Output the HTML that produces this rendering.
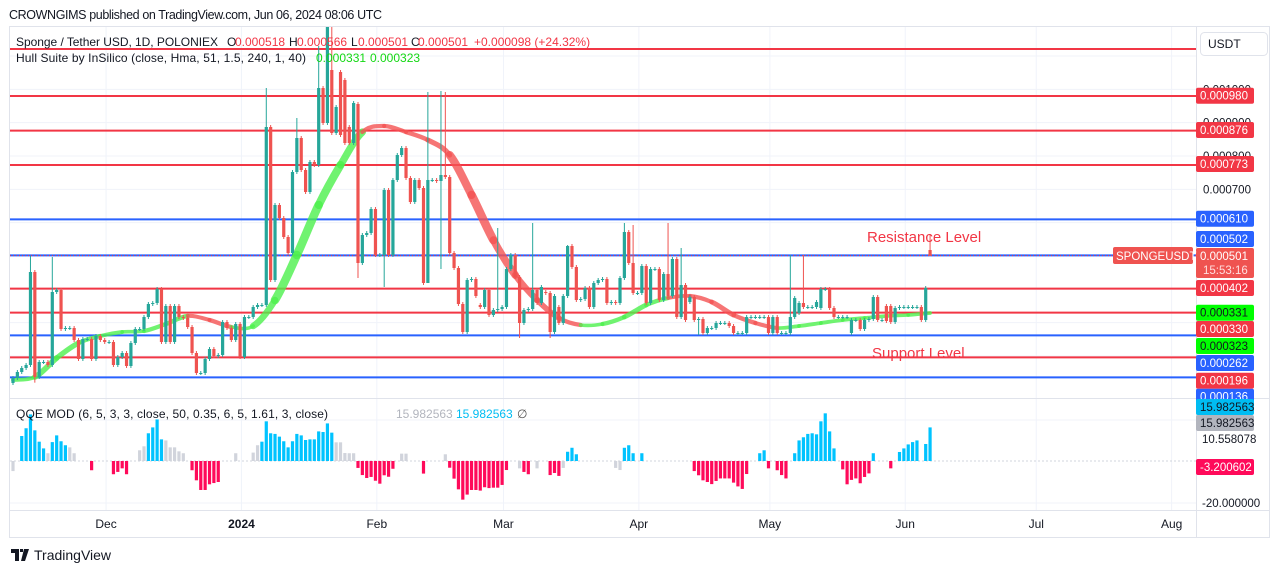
<!DOCTYPE html>
<html><head><meta charset="utf-8"><style>
html,body{margin:0;padding:0;background:#fff;width:1281px;height:573px;overflow:hidden}
svg{display:block;font-family:"Liberation Sans",sans-serif}
</style></head><body>
<svg id="chart" width="1281" height="573" viewBox="0 0 1281 573">
<rect x="0" y="0" width="1281" height="573" fill="#fff"/>
<text x="9" y="19" font-size="12.5" fill="#131722" textLength="373">CROWNGIMS published on TradingView.com, Jun 06, 2024 08:06 UTC</text>
<rect x="9.5" y="26.5" width="1260" height="511" fill="none" stroke="#e0e3eb"/>
<defs><clipPath id="pc"><rect x="10" y="27" width="1186" height="371"/></clipPath></defs>
<g id="grid"></g>
<g id="levels"></g>
<g id="hull" clip-path="url(#pc)"></g>
<g id="candles" clip-path="url(#pc)"></g>
<g id="qqe"></g>
<line x1="10" y1="398.5" x2="1270" y2="398.5" stroke="#e0e3eb"/>
<line x1="10" y1="510.5" x2="1270" y2="510.5" stroke="#e0e3eb"/>
<line x1="1196.5" y1="27" x2="1196.5" y2="537" stroke="#e0e3eb"/>
<text x="867" y="242" font-size="15" fill="#f23645">Resistance Level</text>
<text x="872" y="358" font-size="15" fill="#f23645">Support Level</text>
<g font-size="12">
<text x="16" y="46" fill="#131722" textLength="202">Sponge / Tether USD, 1D, POLONIEX</text>
<text x="227" y="46" fill="#131722">O</text><text x="235" y="46" fill="#f23645">0.000518</text>
<text x="289" y="46" fill="#131722">H</text><text x="297" y="46" fill="#f23645">0.000566</text>
<text x="351" y="46" fill="#131722">L</text><text x="358" y="46" fill="#f23645">0.000501</text>
<text x="411" y="46" fill="#131722">C</text><text x="418" y="46" fill="#f23645">0.000501</text>
<text x="474" y="46" fill="#f23645">+0.000098 (+24.32%)</text>
</g>
<g font-size="12">
<text x="16" y="62" fill="#131722" textLength="290">Hull Suite by InSilico (close, Hma, 51, 1.5, 240, 1, 40)</text>
<text x="316" y="62" fill="#14d814">0.000331</text><text x="370" y="62" fill="#14d814">0.000323</text>
</g>
<g font-size="12">
<text x="16" y="418" fill="#131722" textLength="312">QQE MOD (6, 5, 3, 3, close, 50, 0.35, 6, 5, 1.61, 3, close)</text>
<text x="396" y="418" fill="#b2b5be">15.982563</text><text x="456" y="418" fill="#00bcf2">15.982563</text>
<text x="517" y="418" fill="#555">∅</text>
</g>
<g id="axis"></g>
<g id="taxis" font-size="12" fill="#131722" text-anchor="middle"></g>
<rect x="1200.5" y="32.5" width="67" height="23" rx="4" fill="#fff" stroke="#e0e3eb"/>
<text x="1208" y="48" font-size="12" fill="#131722">USDT</text>
<g>
<path d="M11 549h8v12h-4v-8h-4z M20 549h3v3h-3z M24 549h5l-4 12h-4z" fill="#131722"/>
<text x="34" y="560" font-size="14" fill="#131722">TradingView</text>
</g>
</svg>
<script>
// ----- candle data (prices in millionths of USDT) -----
const closes=[134,152,164,173,452,137,182,182,173,392,398,281,284,284,248,191,251,251,191,260,248,242,242,173,197,209,170,239,281,281,317,356,359,401,242,350,242,350,317,314,287,209,149,149,191,221,200,203,302,284,248,296,197,317,317,347,353,353,887,428,653,614,557,509,752,854,758,692,782,773,1004,899,1187,869,947,863,839,839,959,479,563,569,641,503,503,698,503,728,803,824,734,662,728,704,419,728,728,725,743,737,509,464,356,272,428,431,380,347,398,323,338,341,347,461,503,437,299,338,341,398,359,407,389,272,380,299,380,530,467,368,371,404,347,419,428,431,359,362,359,434,572,479,389,389,470,359,461,461,368,446,380,491,317,413,308,377,308,311,269,284,284,299,299,299,290,269,269,269,317,317,317,317,317,269,317,269,269,269,317,374,359,347,347,347,362,401,401,344,317,317,317,317,308,308,281,308,311,377,308,308,305,302,344,347,347,347,347,347,308,404,501];
const openGapIdx=[0,73,75,76,77,79,107,122,125,155,180,185,192,200,201,210];
const openGapVal=[119,1058,1052,1028,887,956,353,392,347,362,329,344,269,350,350,518];
const highIdx=[4,9,58,65,70,72,73,95,98,99,111,119,127,140,142,150,153,178,181,210];
const highVal=[500,497,1004,914,1130,1190,1190,992,995,992,584,599,533,599,593,599,524,503,503,566];
const lowIdx=[0,5,79,85,95,98,116,123,157,210];
const lowVal=[113,120,434,407,461,461,254,254,263,501];
// ----- Hull suite band -----
const hullIdx=[0,5,10,15,20,25,30,35,40,45,50,55,60,65,70,75,80,85,90,95,100,105,110,115,120,125,130,135,140,145,150,155,160,165,170,175,180,185,190,195,200,205,210];
const hullVal=[128,137,194,239,260,272,275,296,320,308,287,290,368,503,653,773,872,890,872,848,803,683,548,443,368,314,293,296,317,353,374,380,362,323,299,284,290,299,308,314,320,323,329];
const hullDir=['g','g','g','g','g','g','g','g','g','r','r','g','g','g','g','g','g','r','r','r','r','r','r','r','r','r','r','g','g','g','g','r','r','r','r','r','g','g','g','g','g','g','g'];
// ----- QQE MOD histogram -----
const qqeIdx=[0,2,3,4,5,6,7,8,9,10,11,12,13,14,18,23,24,25,26,29,30,31,32,33,34,35,36,37,38,39,41,42,43,44,45,46,47,51,55,56,57,58,59,60,61,62,63,64,65,66,67,68,69,70,71,72,73,74,75,76,77,78,79,80,81,82,83,84,85,86,87,89,90,94,99,100,101,102,103,104,105,106,107,108,109,110,111,112,113,116,117,118,120,123,124,125,126,127,128,129,138,139,140,141,142,144,156,157,158,159,160,161,162,163,164,165,166,167,168,171,172,173,175,176,177,179,180,181,182,183,184,185,186,187,188,190,191,192,193,194,195,196,197,201,203,204,205,206,207,209,210];
const qqeVal=[-4.8,11.9,15.6,22.2,14.6,9.2,6,3.7,9,12.2,9.4,7.5,6.5,3.7,-4.4,-6.3,-5.2,-3.5,-6.3,5.1,7,13.2,16,19.8,10.3,9.8,6.5,6.5,4.6,3.7,-4.4,-9.2,-13.8,-13.8,-11.1,-10.5,-10,3.7,4,7.5,9.2,18.9,13.2,12.9,11.6,9.4,6.5,9.4,12.9,12.2,10,10.3,10.3,14.1,13.8,17.9,13.5,8.9,8.9,3.8,3.7,3.7,-3.3,-6.7,-8.1,-7.6,-9.4,-10.8,-6.8,-7.5,-3.7,3.5,3.5,-6,3.2,-3.2,-8.4,-13.5,-18.4,-16,-13.8,-13.8,-14.1,-12.5,-12.9,-12.7,-12.7,-11.4,-4.3,-3.5,-5.2,-6.3,-3.5,-6.7,-5.7,-7.1,-3.3,4.4,6.3,3.2,-3.3,-4.3,6.3,7.5,3.7,3.7,-4.8,-6.8,-9.2,-10,-11,-9.5,-8.3,-8.3,-8.3,-10.3,-12.1,-13.3,-6.2,3.7,5.1,-3.5,-4.4,-6.7,-8.3,3.7,9.8,11.3,12.9,13.2,12.7,18.9,22.7,14.1,6,-4,-11.1,-9,-8.3,-10.6,-7.6,-5.9,3.7,-3.5,4.3,6,7.9,9,9.8,8.1,16];
const qqeCol=['g','b','b','b','b','b','b','g','b','b','b','b','g','g','r','r','r','r','r','g','g','b','b','b','b','g','g','g','g','g','r','r','r','r','r','r','r','g','g','g','b','b','b','b','b','b','b','b','b','b','b','b','b','b','b','b','b','g','g','g','g','g','r','r','r','r','r','r','r','r','r','g','g','r','g','r','r','r','r','r','r','r','r','r','r','r','r','r','r','g','r','r','g','r','r','r','g','b','b','b','g','g','b','b','b','b','r','r','r','r','r','r','r','r','r','r','r','r','r','b','b','r','r','r','r','b','b','b','b','b','b','b','b','b','b','r','r','r','r','r','r','r','b','r','b','b','b','b','b','b','b'];
// ----- horizontal levels & axis -----
const redLevels=[1121,980,876,773,402,330,196];
const blueLevels=[610,502,262,136];
const gridPrices=[1100,1000,900,800,700,600,500,400,300,200];
const axisTicks=['0.001000','0.000900','0.000800','0.000700'];
const axisTickVals=[1000,900,800,700];
const monthNames=['Dec','2024','Feb','Mar','Apr','May','Jun','Jul','Aug'];
const monthIdx=[22,53,84,113,144,174,205,235,266];

const NS='http://www.w3.org/2000/svg';
const xS=i=>13+i*4.367;
const yS=p=>(1268-p)/3;
const qY=v=>461-v*2.1;
function mk(tag,attrs,parent){const e=document.createElementNS(NS,tag);for(const k in attrs)e.setAttribute(k,attrs[k]);parent.appendChild(e);return e;}
const grid=document.getElementById('grid');
gridPrices.forEach(p=>{const l=mk('line',{x1:10,x2:1196,y1:yS(p),y2:yS(p),stroke:'#f0f3fa'},grid);

});
[420,503].forEach(y=>{const l=mk('line',{x1:10,x2:1196,y1:y,y2:y,stroke:'#f0f3fa'},grid);

});
monthIdx.forEach(i=>{const x=xS(i)-3;const l=mk('line',{x1:x,x2:x,y1:27,y2:510,stroke:'#f0f3fa'},grid);

});
const zl=mk('line',{x1:10,x2:1196,y1:461,y2:461,stroke:'#d1d4dc','stroke-dasharray':'2,2'},grid);



const lv=document.getElementById('levels');
redLevels.forEach(p=>{const l=mk('line',{x1:10,x2:1196,y1:yS(p),y2:yS(p),stroke:'#f23645','stroke-width':2},lv);

});
blueLevels.forEach(p=>{const l=mk('line',{x1:10,x2:1196,y1:yS(p),y2:yS(p),stroke:'#2962ff','stroke-width':2},lv);

});
const cp=mk('line',{x1:10,x2:1196,y1:yS(501),y2:yS(501),stroke:'#f23645','stroke-dasharray':'1,2'},lv);



// hull band
const hull=document.getElementById('hull');
const pts=hullIdx.map((i,k)=>[xS(i),yS(hullVal[k])]);
for(let k=0;k<pts.length-1;k++){
 const p0=pts[Math.max(0,k-1)],p1=pts[k],p2=pts[k+1],p3=pts[Math.min(pts.length-1,k+2)];
 const c1=[p1[0]+(p2[0]-p0[0])/6,p1[1]+(p2[1]-p0[1])/6],c2=[p2[0]-(p3[0]-p1[0])/6,p2[1]-(p3[1]-p1[1])/6];
 const g=hullDir[k+1]==='g';
 const steep=Math.abs(p2[1]-p1[1])/(p2[0]-p1[0]);
 const pa=mk('path',{d:`M${p1[0]},${p1[1]}C${c1[0]},${c1[1]} ${c2[0]},${c2[1]} ${p2[0]},${p2[1]}`,fill:'none',stroke:g?'#4cf04c':'#f45252','stroke-opacity':0.8,'stroke-width':3.5+Math.min(steep*2.5,5),'stroke-linecap':'round'},hull);
 
 
}

// candles
const cg=document.getElementById('candles');
closes.forEach((c,i)=>{
 let o=i>0?closes[i-1]:c; const gi=openGapIdx.indexOf(i); if(gi>=0)o=openGapVal[gi];
 let hi=Math.max(o,c)+6, lo=Math.min(o,c)-6;
 const hk=highIdx.indexOf(i); if(hk>=0)hi=highVal[hk];
 const lk=lowIdx.indexOf(i); if(lk>=0)lo=lowVal[lk];
 const up=c>=o, col=up?'#26a69a':'#ef5350', x=xS(i);
 const w=mk('line',{x1:x,x2:x,y1:yS(hi),y2:yS(lo),stroke:col,'stroke-width':1},cg);
 
 
 const t=yS(Math.max(o,c)),b=yS(Math.min(o,c));
 const r=mk('rect',{x:x-1.6,y:t,width:3.2,height:Math.max(1,b-t),fill:col},cg);
 
 
});

// qqe
const qg=document.getElementById('qqe');
const qc={b:'#00c3ff',r:'#ff0a5a',g:'#d1d4dc'};
qqeIdx.forEach((i,k)=>{const v=qqeVal[k],y=qY(v);
 const r=mk('rect',{x:xS(i)-1.6,y:Math.min(y,461),width:3.2,height:Math.abs(461-y),fill:qc[qqeCol[k]]},qg);
 
 });

// price axis
const ax=document.getElementById('axis');
axisTickVals.forEach((p,k)=>{const t=mk('text',{x:1203,y:yS(p)+4,'font-size':11.5,fill:'#131722'},ax);t.textContent=axisTicks[k];
 
 });
const boxes=[['0.000980',95.7,'#f23645','#fff'],['0.000876',130,'#f23645','#fff'],['0.000773',164,'#f23645','#fff'],['0.000610',218.7,'#2962ff','#fff'],['0.000502',239,'#2962ff','#fff'],['0.000402',288,'#f23645','#fff'],['0.000331',312.7,'#00ff00','#131722'],['0.000330',329,'#f23645','#fff'],['0.000323',346,'#00ff00','#131722'],['0.000262',363,'#2962ff','#fff'],['0.000196',380.7,'#f23645','#fff'],['0.000136',396.7,'#2962ff','#fff'],['15.982563',407,'#00bcf2','#131722'],['15.982563',423,'#b2b5be','#131722'],['-3.200602',467,'#ff0a5a','#fff']];
[['10.558078',439],['-20.000000',503]].forEach(([s,y])=>{const t=mk('text',{x:1202,y:y+4,'font-size':11.5,fill:'#131722'},ax);t.textContent=s;
 
 });
boxes.forEach(([s,y,bg,fg])=>{const g=mk('g',{},ax);
 
 
 mk('rect',{x:1196,y:y-8,width:58,height:16,rx:2,fill:bg},g);
 const t=mk('text',{x:1200,y:y+4,'font-size':11.5,fill:fg},g);t.textContent=s;});
const cur=mk('g',{},ax);


mk('rect',{x:1196,y:248,width:58,height:30,rx:2,fill:'#ef5350'},cur);
mk('text',{x:1200,y:260,'font-size':11.5,fill:'#fff'},cur).textContent='0.000501';
mk('text',{x:1203,y:274,'font-size':11.5,fill:'#ffdede'},cur).textContent='15:53:16';
const sym=mk('g',{},ax);


mk('rect',{x:1113,y:247,width:80,height:17,rx:2,fill:'#ef5350'},sym);
mk('text',{x:1116,y:260,'font-size':11.5,fill:'#fff'},sym).textContent='SPONGEUSDT';

// time axis
const ta=document.getElementById('taxis');
monthNames.forEach((m,k)=>{const t=mk('text',{x:xS(monthIdx[k])-3,y:528,'font-weight':m==='2024'?'bold':'normal'},ta);t.textContent=m;
 
 });
</script>
</body></html>
